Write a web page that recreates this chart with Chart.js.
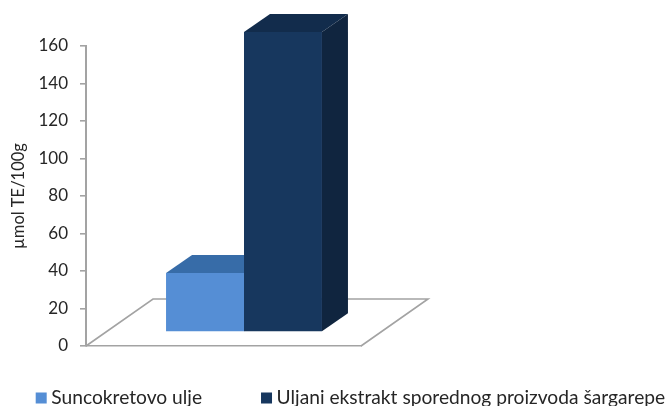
<!DOCTYPE html>
<html><head><meta charset="utf-8">
<style>html,body{margin:0;padding:0;background:#fff}#w{position:relative;width:667px;height:406px}</style>
<script src="https://cdn.jsdelivr.net/npm/chart.js@4"></script></head>
<body><div id="w"><canvas id="c" width="667" height="406"></canvas></div>
<script>
const categories = [''];
const seriesNames = ['Suncokretovo ulje', 'Uljani ekstrakt sporednog proizvoda šargarepe'];
const sunflower = [31.5];
const carrotExtract = [160];
const axisTitle = 'µmol TE/100g';

const FONT = 'Lato';
const AXIS = '#a3a3a3';
const INK = '#262626';
const DX = 20.5, DY = -14, DEPTH_X = 26, DEPTH_Y = -18;
const FLOOR_X = 67, FLOOR_Y = -47;
const shades = [
  {front:'#558ed5', top:'#376ca8', side:'#376092'},
  {front:'#17375e', top:'#122c4c', side:'#10253f'}
];

function poly(ctx, pts, fill){
  ctx.beginPath();
  pts.forEach((p,i)=> i ? ctx.lineTo(p[0],p[1]) : ctx.moveTo(p[0],p[1]));
  ctx.closePath();
  ctx.fillStyle = fill;
  ctx.fill();
}
function faces(chart, index){
  const ctx = chart.ctx, s = shades[index];
  chart.getDatasetMeta(index).data.forEach(el=>{
    const p = el.getProps(['x','y','base','width'], true);
    const l = p.x-p.width/2, r = p.x+p.width/2;
    poly(ctx, [[l,p.y],[l+DEPTH_X,p.y+DEPTH_Y],[r+DEPTH_X,p.y+DEPTH_Y],[r,p.y]], s.top);
    poly(ctx, [[r,p.y],[r+DEPTH_X,p.y+DEPTH_Y],[r+DEPTH_X,p.base+DEPTH_Y],[r,p.base]], s.side);
  });
}

const bar3d = {
  id:'bar3d',
  beforeLayout(chart){
    const l = chart.legend;
    if (!l._wrapped){
      const fit = l.fit;
      l.fit = function(){
        this.maxWidth = 900;
        fit.call(this);
        this.height = 60;
      };
      l._wrapped = true;
    }
  },
  afterLayout(chart){
    const l = chart.legend;
    l.top = 324.4; l.bottom = 406;
    l.left = -23.3; l.right = 900;
  },
  beforeDatasetsDraw(chart){
    const {ctx, chartArea:a} = chart;
    ctx.save();
    ctx.strokeStyle = AXIS; ctx.lineWidth = 1.6;
    ctx.beginPath();
    ctx.moveTo(a.left, a.bottom);
    ctx.lineTo(a.left+FLOOR_X, a.bottom+FLOOR_Y);
    ctx.lineTo(a.right+FLOOR_X, a.bottom+FLOOR_Y);
    ctx.lineTo(a.right, a.bottom);
    ctx.stroke();
    ctx.restore();
  },
  beforeDatasetDraw(chart, args){
    chart.ctx.save();
    chart.ctx.translate(DX, DY);
    // the light bar's depth faces sit behind the dark bar
    if (args.index === 1) faces(chart, 0);
  },
  afterDatasetDraw(chart, args){
    if (args.index === 1) faces(chart, 1);
    chart.ctx.restore();
  }
};

new Chart(document.getElementById('c'), {
  type:'bar',
  plugins:[bar3d],
  data:{
    labels:categories,
    datasets:[
      {label:seriesNames[0], data:sunflower, backgroundColor:shades[0].front, clip:false},
      {label:seriesNames[1], data:carrotExtract, backgroundColor:shades[1].front, clip:false}
    ]
  },
  options:{
    responsive:false, animation:false,
    layout:{padding:{top:46,left:0,right:0,bottom:0}},
    categoryPercentage:0.567, barPercentage:1,
    plugins:{
      tooltip:{enabled:false},
      legend:{
        position:'bottom', align:'start',
        labels:{
          boxWidth:1, boxHeight:1, padding:64, color:INK, font:{family:FONT,size:19.2},
          generateLabels(chart){
            return Chart.defaults.plugins.legend.labels.generateLabels(chart).map(it=>({
              ...it, lineWidth:10, strokeStyle:it.fillStyle, lineJoin:'miter'
            }));
          }
        }
      }
    },
    scales:{
      x:{
        grid:{display:false, drawTicks:false},
        border:{color:AXIS, width:1.6},
        ticks:{display:false},
        afterFit(s){ s.height = 0; }
      },
      y:{
        min:0, max:160,
        ticks:{stepSize:20, color:INK, padding:12, font:{family:FONT,size:17}},
        grid:{drawOnChartArea:false, color:AXIS, tickLength:6, lineWidth:1.6},
        border:{color:AXIS, width:2},
        title:{display:true, text:axisTitle, color:INK, padding:{top:9,bottom:0}, font:{family:FONT,size:16.5}},
        afterFit(s){ s.width = 86; }
      },
      spacer:{
        position:'right', display:true,
        grid:{display:false}, border:{display:false}, ticks:{display:false},
        afterFit(s){ s.width = 306; }
      }
    }
  }
});
</script></body></html>
